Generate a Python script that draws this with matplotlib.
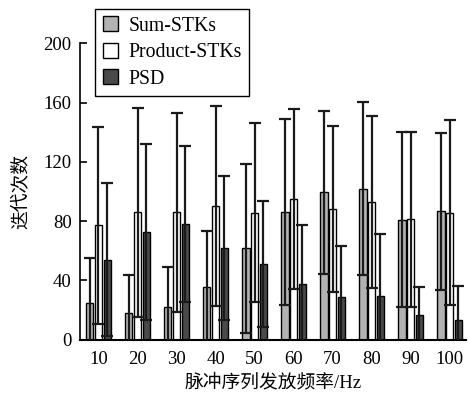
import numpy as np
import matplotlib
matplotlib.use("Agg")
import matplotlib.pyplot as plt

plt.rcParams["font.family"] = ["Liberation Serif", "Noto Sans CJK SC"]

freqs = ["10", "20", "30", "40", "50", "60", "70", "80", "90", "100"]

# 均值与误差
sum_mean = [24.5, 17.7, 21.7, 35.2, 61.6, 86.0, 99.4, 102.0, 81.0, 86.5]
sum_err = [30.8, 25.7, 27.5, 38.4, 57.0, 62.7, 55.2, 58.7, 59.2, 52.8]
prod_mean = [77.2, 85.9, 85.9, 90.4, 85.8, 95.0, 88.0, 93.0, 81.3, 85.8]
prod_err = [66.6, 70.7, 67.3, 67.6, 60.4, 61.0, 56.0, 58.0, 59.2, 62.4]
psd_mean = [54.0, 72.7, 78.2, 62.0, 51.2, 37.5, 28.5, 29.6, 16.3, 13.0]
psd_err = [51.5, 59.4, 52.8, 48.5, 42.6, 40.1, 34.9, 41.7, 19.4, 23.1]

labels = ["Sum-STKs", "Product-STKs", "PSD"]
colors = ["#b2b2b2", "#ffffff", "#4a4a4a"]

fig = plt.figure(figsize=(4.7, 3.94), dpi=100)
ax = fig.add_axes([0.1702, 0.1383, 0.8213, 0.7513])

x = np.arange(len(freqs))
w = 0.19
off = 0.224
series = [(sum_mean, sum_err), (prod_mean, prod_err), (psd_mean, psd_err)]
for i, (m, e) in enumerate(series):
    xi = x + (i - 1) * off
    ax.bar(xi, m, width=w, color=colors[i], edgecolor="black",
           linewidth=1.0, label=labels[i], zorder=2)
    ax.errorbar(xi, m, yerr=e, fmt="none", ecolor="#1a1a1a",
                elinewidth=1.6, capsize=4.5, capthick=1.6, zorder=3)

ax.set_xlim(-0.474, 9.42)
ax.set_ylim(0, 200)
ax.set_yticks([0, 40, 80, 120, 160, 200])
ax.set_xticks(x)
ax.set_xticklabels(freqs)

for s in ["top", "right"]:
    ax.spines[s].set_visible(False)
ax.spines["left"].set_linewidth(1.2)
ax.spines["bottom"].set_linewidth(1.5)

ax.tick_params(axis="y", direction="in", length=5, width=1.2,
               labelsize=13.5, pad=6)
ax.tick_params(axis="x", length=0, labelsize=13.5, pad=8)

ax.set_xlabel("脉冲序列发放频率/Hz", fontsize=13.5, labelpad=4)
ax.set_ylabel("迭代次数", fontsize=13.5, labelpad=9)

leg = ax.legend(loc="upper left", bbox_to_anchor=(0.039, 1.117),
                borderaxespad=0, fontsize=14.2, fancybox=False,
                edgecolor="black", framealpha=1, handlelength=0.8,
                handleheight=0.8, handletextpad=0.5, labelspacing=0.36,
                borderpad=0.38)
leg.get_frame().set_linewidth(1.0)

fig.savefig("out.png", dpi=100)
